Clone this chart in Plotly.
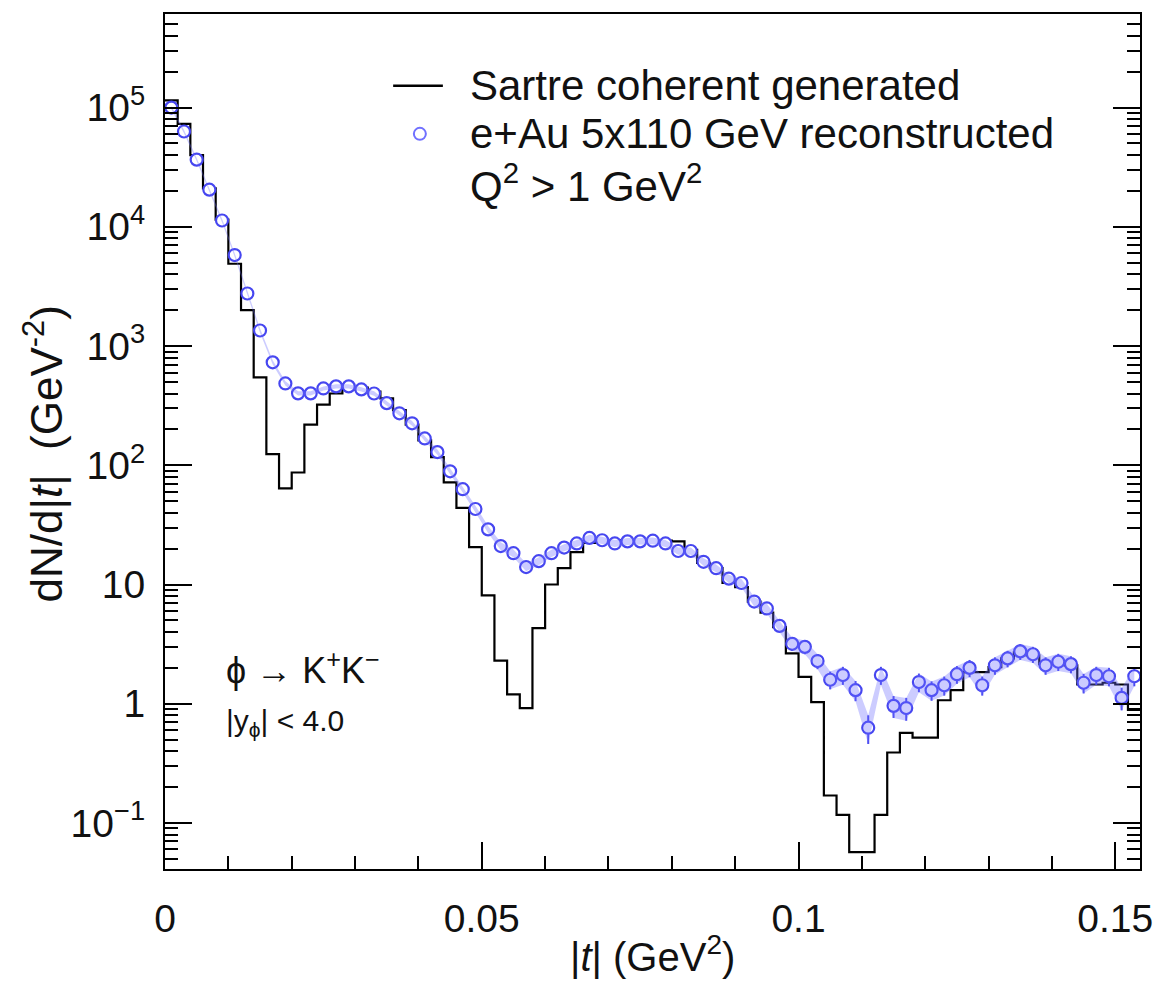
import plotly.graph_objects as go

# |t| binning (GeV^2): 77 bins of width 0.002 starting at 0
bin_width = 0.002
n_bins = 77
bin_edges = [round(i * bin_width, 4) for i in range(n_bins + 1)]
bin_centers = [round((bin_edges[i] + bin_edges[i + 1]) / 2, 4) for i in range(n_bins)]

# Sartre coherent generated, dN/d|t| per bin
sartre_generated = [
    1.15e5, 7.3e4, 4.0e4, 2.1e4, 1.15e4, 4.9e3, 2.0e3, 546,
    124, 64, 87, 219, 323, 400, 433, 448,
    414, 364, 290, 219, 162, 117, 72, 44,
    20.6, 8.1, 2.3, 1.2, 0.92, 4.3, 10.0, 13.7,
    18.7, 22.3, 23.4, 23.4, 23.6, 23.6, 23.4, 23.4,
    23.0, 19.5, 15.2, 13.7, 10.3, 9.5, 7.2, 5.8,
    4.4, 2.65, 1.68, 1.03, 0.17, 0.117, 0.057, 0.057,
    0.117, 0.39, 0.57, 0.52, 0.52, 1.07, 1.3, 1.84,
    1.84, 2.03, 2.4, 2.7, 2.55, 2.15, 2.15, 2.1,
    1.45, 1.45, 1.5, 1.45, 0.89,
]

# e+Au 5x110 GeV reconstructed, dN/d|t| per bin and its uncertainty
reconstructed = [
    1.0e5, 6.3e4, 3.66e4, 2.05e4, 1.13e4, 5.8e3, 2.76e3, 1.35e3,
    730, 486, 401, 401, 441, 459, 459, 433,
    400, 332, 273, 225, 168, 129, 89, 63,
    43, 29, 21, 18.3, 14.0, 15.7, 18.3, 20.4,
    22.1, 24.6, 23.5, 22.1, 23.0, 23.0, 23.3, 22.1,
    19.1, 19.1, 15.5, 13.7, 11.2, 10.3, 7.2, 6.3,
    4.5, 3.18, 3.0, 2.28, 1.59, 1.74, 1.3, 0.63,
    1.74, 0.96, 0.92, 1.52, 1.3, 1.43, 1.77, 2.0,
    1.43, 2.1, 2.4, 2.75, 2.6, 2.1, 2.25, 2.15,
    1.5, 1.74, 1.7, 1.12, 1.7,
]
reconstructed_err = [
    3000, 2000, 1200, 700, 400, 210, 110, 55,
    30, 20, 17, 17, 18, 19, 19, 18,
    17, 15, 12, 10, 8, 6.5, 5, 3.8,
    2.8, 2.0, 1.6, 1.4, 1.1, 1.2, 1.3, 1.4,
    1.5, 1.6, 1.6, 1.5, 1.5, 1.5, 1.5, 1.5,
    1.3, 1.3, 1.1, 1.0, 0.9, 0.85, 0.65, 0.6,
    0.5, 0.4, 0.4, 0.33, 0.27, 0.3, 0.25, 0.17,
    0.3, 0.2, 0.2, 0.27, 0.24, 0.26, 0.3, 0.33,
    0.26, 0.35, 0.38, 0.42, 0.4, 0.35, 0.37, 0.35,
    0.28, 0.3, 0.3, 0.24, 0.3,
]

y_tick_vals = [0.1, 1, 10, 100, 1e3, 1e4, 1e5]
y_tick_text = ["10<sup>\u22121</sup>", "1", "10", "10<sup>2</sup>",
               "10<sup>3</sup>", "10<sup>4</sup>", "10<sup>5</sup>"]

FONT = "Liberation Sans, Arial, Helvetica, sans-serif"
BLUE = "#4646f0"
BAND = "rgba(110,110,255,0.35)"

band_hi = [v + e for v, e in zip(reconstructed, reconstructed_err)]
band_lo = [v - e for v, e in zip(reconstructed, reconstructed_err)]

fig = go.Figure()

# generated histogram drawn as steps over bin edges
fig.add_trace(go.Scatter(
    x=bin_edges, y=sartre_generated + [sartre_generated[-1]],
    mode="lines", line=dict(shape="hv", color="black", width=2.2),
    showlegend=False, name="Sartre coherent generated"))

# reconstructed points with error bars (white-filled circles hide the bar core)
fig.add_trace(go.Scatter(
    x=bin_centers, y=reconstructed, mode="markers",
    marker=dict(symbol="circle", size=12, color="white",
                line=dict(width=2.2, color=BLUE)),
    error_y=dict(type="data", array=reconstructed_err, visible=True,
                 color=BLUE, thickness=2, width=0),
    showlegend=False, name="e+Au 5x110 GeV reconstructed"))

# translucent uncertainty band laid over the points
fig.add_trace(go.Scatter(x=bin_centers, y=band_hi, mode="lines",
                         line=dict(width=0, color=BAND), hoverinfo="skip",
                         showlegend=False))
fig.add_trace(go.Scatter(x=bin_centers, y=band_lo, mode="lines",
                         line=dict(width=0, color=BAND), fill="tonexty",
                         fillcolor=BAND, hoverinfo="skip", showlegend=False))

# hand-placed legend
fig.add_shape(type="line", xref="paper", yref="paper",
              x0=0.234, x1=0.285, y0=0.916, y1=0.916,
              line=dict(color="black", width=2.5))
fig.add_shape(type="circle", xref="paper", yref="paper",
              xsizemode="pixel", ysizemode="pixel",
              xanchor=0.2614, yanchor=0.8598,
              x0=-6, x1=6, y0=-6, y1=6,
              line=dict(color="#7070ff", width=2))

legend_lines = [
    ("Sartre coherent generated", 0.9159),
    ("e+Au 5x110 GeV reconstructed", 0.8598),
    ("Q<sup>2</sup> &gt; 1 GeV<sup>2</sup>", 0.8026),
]
for txt, yy in legend_lines:
    fig.add_annotation(text=txt, xref="paper", yref="paper", x=0.3103, y=yy,
                       xanchor="left", yanchor="middle", showarrow=False,
                       font=dict(family=FONT, size=42, color="#111"))

fig.add_annotation(text="\u03d5 \u2192 K<sup>+</sup>K<sup>\u2212</sup>",
                   xref="paper", yref="paper", x=0.061, y=0.2348,
                   xanchor="left", yanchor="middle", showarrow=False,
                   font=dict(family=FONT, size=36, color="#111"))
fig.add_annotation(text="|y<sub>\u03d5</sub>| &lt; 4.0",
                   xref="paper", yref="paper", x=0.061, y=0.1717,
                   xanchor="left", yanchor="middle", showarrow=False,
                   font=dict(family=FONT, size=30, color="#111"))

# axis titles
fig.add_annotation(text="|<i>t</i>| (GeV<sup>2</sup>)", xref="paper", yref="paper",
                   x=0.5, y=-0.099, xanchor="center", yanchor="middle",
                   showarrow=False, font=dict(family=FONT, size=40, color="#111"))
fig.add_annotation(text="dN/d|<i>t</i>|  (GeV<sup>-2</sup>)", xref="paper", yref="paper",
                   x=-0.125, y=0.485, xanchor="center", yanchor="middle",
                   textangle=-90, showarrow=False,
                   font=dict(family=FONT, size=44, color="#111"))

fig.update_layout(
    width=1165, height=984,
    margin=dict(l=165, r=17, t=13, b=115),
    paper_bgcolor="white", plot_bgcolor="white",
    showlegend=False,
    xaxis=dict(
        range=[0, 0.1539], tick0=0, dtick=0.05,
        ticks="inside", ticklen=27, tickwidth=1.5, tickcolor="black",
        showline=True, linewidth=2.2, linecolor="black", mirror=True,
        showgrid=False, zeroline=False,
        tickfont=dict(family=FONT, size=39, color="#111"),
        ticklabelstandoff=14,
        minor=dict(dtick=0.01, tick0=0, ticks="inside", ticklen=13,
                   tickwidth=1.5, tickcolor="black", showgrid=False),
    ),
    yaxis=dict(
        type="log", range=[-1.386, 5.785],
        tickmode="array", tickvals=y_tick_vals, ticktext=y_tick_text,
        ticks="inside", ticklen=27, tickwidth=1.5, tickcolor="black",
        showline=True, linewidth=2.2, linecolor="black", mirror="allticks",
        showgrid=False, zeroline=False,
        tickfont=dict(family=FONT, size=39, color="#111"),
        ticklabelstandoff=10,
        minor=dict(dtick="D1", ticks="inside", ticklen=13,
                   tickwidth=1.5, tickcolor="black", showgrid=False),
    ),
)

fig.write_html("out.html")
